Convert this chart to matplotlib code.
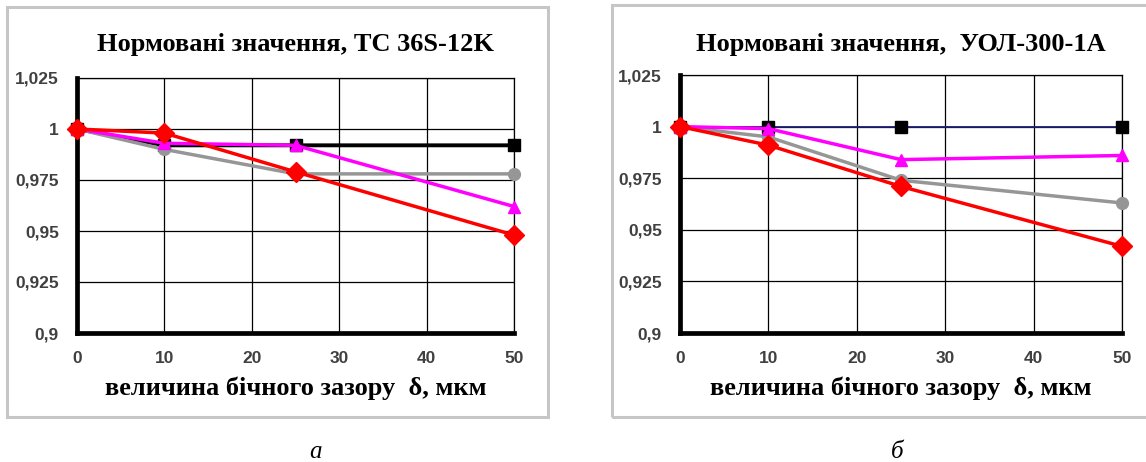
import matplotlib
matplotlib.use("Agg")
import matplotlib.pyplot as plt
from matplotlib.patches import Rectangle

# x positions (side clearance, mkm)
delta = [0, 10, 25, 50]

# chart a: TC 36S-12K
a_black = [1.0, 0.992, 0.992, 0.992]
a_grey = [1.0, 0.990, 0.978, 0.978]
a_magenta = [1.0, 0.993, 0.992, 0.962]
a_red = [1.0, 0.998, 0.979, 0.948]

# chart b: UOL-300-1A
b_black = [1.0, 1.0, 1.0, 1.0]
b_grey = [1.0, 0.995, 0.974, 0.963]
b_magenta = [1.0, 0.999, 0.984, 0.986]
b_red = [1.0, 0.991, 0.971, 0.942]

y_ticks = [0.9, 0.925, 0.95, 0.975, 1.0, 1.025]
y_labels = ["0,9", "0,925", "0,95", "0,975", "1", "1,025"]
x_ticks = [0, 10, 20, 30, 40, 50]

titles = ["Нормовані значення, ТС 36S-12K", "Нормовані значення,  УОЛ-300-1А"]
x_title = "величина бічного зазору  δ, мкм"
captions = ["а", "б"]

W, H = 1146, 462
fig = plt.figure(figsize=(W / 100, H / 100), dpi=100)


def fx(px):
    return px / W


def fy(py):
    return 1 - py / H


def draw_chart(box, frame, black, grey, magenta, red, title, caption, cap_x, black_lw, black_col):
    x0, y0, x1, y1 = box
    fig.patches.append(Rectangle((fx(frame[0]), fy(frame[3])), fx(frame[2] - frame[0]),
                                 (frame[3] - frame[1]) / H, transform=fig.transFigure,
                                 fill=False, edgecolor="#c6c6c6", linewidth=2.2))
    ax = fig.add_axes([fx(x0), fy(y1), fx(x1 - x0), (y1 - y0) / H])
    ax.plot(delta, black, color=black_col, lw=black_lw, marker="s", ms=8,
            mfc="black", mec="black", clip_on=False, zorder=3)
    ax.plot(delta, grey, color="#969696", lw=2.5, marker="o", ms=8.5, clip_on=False, zorder=4)
    ax.plot(delta, magenta, color="#ff00ff", lw=2.5, marker="^", ms=8.5, clip_on=False, zorder=5)
    ax.plot(delta, red, color="#ff0000", lw=2.5, marker="D", ms=10, clip_on=False, zorder=6)
    ax.set_xlim(0, 50)
    ax.set_ylim(0.9, 1.025)
    ax.set_xticks(x_ticks)
    ax.set_yticks(y_ticks)
    ax.set_yticklabels(y_labels)
    ax.grid(True, color="black", lw=0.9)
    ax.set_axisbelow(True)
    for s in ["left", "bottom"]:
        ax.spines[s].set_linewidth(3.4)
    for s in ["top", "right"]:
        ax.spines[s].set_linewidth(0.9)
    ax.tick_params(length=0, pad=13, labelsize=12.5, labelcolor="#404040")
    ax.tick_params(axis="y", pad=13)
    for lab in ax.get_xticklabels() + ax.get_yticklabels():
        lab.set_fontweight("bold")
        lab.set_family("Liberation Sans")
    cx = (x0 + x1) / 2
    fig.text(fx(cx), fy(44), title, ha="center", va="center", fontsize=19,
             fontweight="bold", family="Liberation Serif")
    fig.text(fx(cx), fy(388), x_title, ha="center", va="center", fontsize=19,
             fontweight="bold", family="Liberation Serif")
    fig.text(fx(cap_x), fy(452), caption, ha="center", va="center", fontsize=18,
             style="italic", family="Liberation Serif")
    return ax


draw_chart((77, 78, 514, 333), (7, 7, 548, 417), a_black, a_grey, a_magenta, a_red,
           titles[0], captions[0], 316, 2.8, "black")
draw_chart((680, 75, 1122, 333), (612, 5, 1160, 417), b_black, b_grey, b_magenta, b_red,
           titles[1], captions[1], 897, 1.3, "#1c1c70")

fig.savefig("out.png", dpi=100)
